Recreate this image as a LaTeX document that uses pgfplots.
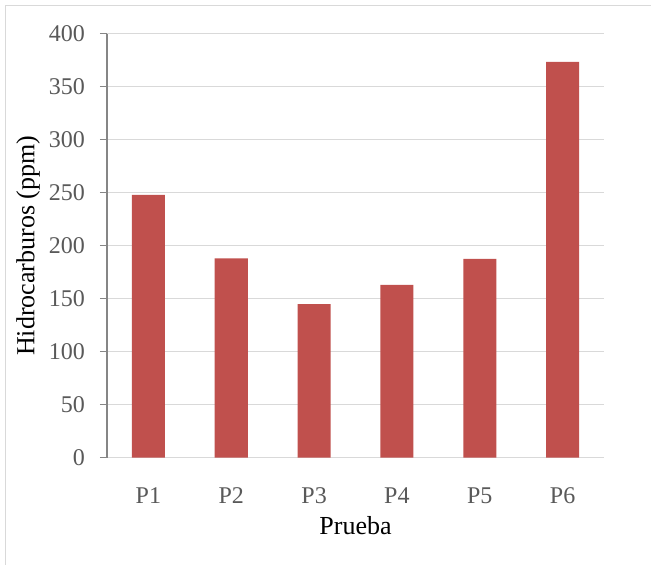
\documentclass[border=0pt]{standalone}
\usepackage{fontspec}
\setmainfont{Liberation Serif}
\usepackage{pgfplots}
\pgfplotsset{compat=1.18}
\definecolor{barred}{HTML}{C0504D}
\definecolor{gridgray}{HTML}{D9D9D9}
\definecolor{axgray}{HTML}{868686}
\definecolor{ticktext}{HTML}{595959}
\begin{document}
\begin{tikzpicture}
\useasboundingbox (-107bp,-107.3bp) rectangle (544bp,457.7bp);
\begin{axis}[
  scale only axis,
  width=497bp, height=424bp,
  at={(0,0)}, anchor=south west,
  xmin=-0.5, xmax=5.5,
  ymin=0, ymax=400,
  ytick={0,50,...,400},
  xtick={0,1,2,3,4,5},
  xticklabels={P1,P2,P3,P4,P5,P6},
  /pgf/number format/assume math mode=true,
  axis y line*=left,
  axis x line*=bottom,
  x axis line style={draw=gridgray, line width=1.3bp},
  y axis line style={draw=axgray, line width=1.3bp},
  xtick style={draw=none},
  ytick style={draw=axgray, line width=1.3bp},
  tick align=outside,
  major tick length=7bp,
  ymajorgrids,
  major grid style={draw=gridgray, line width=1.3bp},
  ticklabel style={font=\fontsize{24bp}{29bp}\selectfont, text=ticktext},
  yticklabel style={anchor=east, inner sep=0pt, xshift=-15bp},
  xticklabel style={anchor=north, inner sep=0pt, yshift=-23bp},
  xlabel={Prueba},
  ylabel={Hidrocarburos (ppm)},
  label style={font=\fontsize{26bp}{31bp}\selectfont, text=black, inner sep=0pt},
  xlabel style={at={(axis description cs:0.5,0)}, anchor=north, yshift=-59bp},
  ylabel style={at={([xshift=-79bp]axis description cs:0,0.5)}, anchor=center, rotate=0},
  ybar, bar width=33bp,
]
\addplot[fill=barred, draw=none] coordinates {(0,248) (1,188) (2,145) (3,163) (4,187.5) (5,373.5)};
\end{axis}
\draw[gridgray, line width=1.5bp] (-101.5bp,-107.3bp) -- (-101.5bp,452.2bp) -- (544bp,452.2bp);
\end{tikzpicture}
\end{document}
